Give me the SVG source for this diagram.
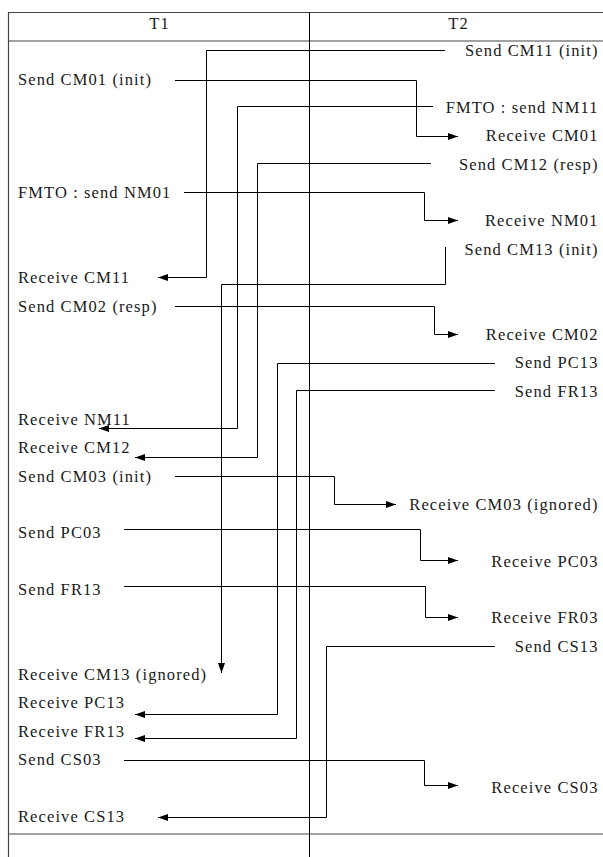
<svg xmlns="http://www.w3.org/2000/svg" width="603" height="857" viewBox="0 0 603 857">
<style>
  text { font-family: "Liberation Serif", "Times New Roman", serif; font-size: 16.5px; letter-spacing: 1.1px; fill: #1a1a1a; }
  .r { text-anchor: end; }
  .h { text-anchor: middle; }
  .tbl { stroke: #444; stroke-width: 1.2; fill: none; }
  .div { stroke: #000; stroke-width: 1; fill: none; }
  .c { stroke: #000; stroke-width: 1; fill: none; marker-end: url(#arr); }
</style>
<defs>
  <marker id="arr" viewBox="0 0 10 7" refX="10" refY="3.5" markerWidth="10" markerHeight="7" markerUnits="userSpaceOnUse" orient="auto">
    <path d="M0,0 L10,3.5 L0,7 z" fill="#000"/>
  </marker>
</defs>
<rect width="603" height="857" fill="#fff"/>
<g id="table">
  <path class="tbl" d="M8.5,857 V12.5 H603 M8.5,41 H603 M8.5,834 H603"/>
  <path class="div" d="M309.5,12.5 V857"/>
  <text class="h" x="159.5" y="28.5">T1</text>
  <text class="h" x="458.5" y="28.5">T2</text>
</g>
<g id="connectors">
  <path class="c" d="M445,50.5 H206.5 V277.5 H158"/>
  <path class="c" d="M175,80.5 H416.5 V136.5 H458"/>
  <path class="c" d="M433,106.5 H237.5 V428.5 H99"/>
  <path class="c" d="M431,163.5 H257.5 V457.5 H135"/>
  <path class="c" d="M184,192.5 H424.5 V220.5 H458"/>
  <path class="c" d="M445.5,247 V284.5 H221.5 V673"/>
  <path class="c" d="M175,306.5 H434.5 V334.5 H458"/>
  <path class="c" d="M495,363.5 H277.5 V714.5 H135"/>
  <path class="c" d="M495,390.5 H296.5 V738.5 H135"/>
  <path class="c" d="M175,476.5 H334.5 V504.5 H396"/>
  <path class="c" d="M124,529.5 H420.5 V560.5 H458"/>
  <path class="c" d="M124,586.5 H425.5 V617.5 H458"/>
  <path class="c" d="M495,646.5 H326.5 V817.5 H158"/>
  <path class="c" d="M124,760.5 H424.5 V785.5 H458"/>
</g>
<g id="n-send-cm11"><text class="r" x="598.5" y="56">Send CM11 (init)</text></g>
<g id="n-send-cm01"><text x="18" y="84.5">Send CM01 (init)</text></g>
<g id="n-fmto-nm11"><text class="r" x="598.5" y="112.5">FMTO : send NM11</text></g>
<g id="n-recv-cm01"><text class="r" x="598.5" y="141">Receive CM01</text></g>
<g id="n-send-cm12"><text class="r" x="598.5" y="169.5">Send CM12 (resp)</text></g>
<g id="n-fmto-nm01"><text x="18" y="198">FMTO : send NM01</text></g>
<g id="n-recv-nm01"><text class="r" x="598.5" y="226">Receive NM01</text></g>
<g id="n-send-cm13"><text class="r" x="598.5" y="254.5">Send CM13 (init)</text></g>
<g id="n-recv-cm11"><text x="18" y="283">Receive CM11</text></g>
<g id="n-send-cm02"><text x="18" y="311.5">Send CM02 (resp)</text></g>
<g id="n-recv-cm02"><text class="r" x="598.5" y="339.5">Receive CM02</text></g>
<g id="n-send-pc13"><text class="r" x="598.5" y="368">Send PC13</text></g>
<g id="n-send-fr13"><text class="r" x="598.5" y="396.5">Send FR13</text></g>
<g id="n-recv-nm11"><text x="18" y="425">Receive NM11</text></g>
<g id="n-recv-cm12"><text x="18" y="453">Receive CM12</text></g>
<g id="n-send-cm03"><text x="18" y="481.5">Send CM03 (init)</text></g>
<g id="n-recv-cm03"><text class="r" x="598.5" y="510">Receive CM03 (ignored)</text></g>
<g id="n-send-pc03"><text x="18" y="538">Send PC03</text></g>
<g id="n-recv-pc03"><text class="r" x="598.5" y="566.5">Receive PC03</text></g>
<g id="n-send-fr13-l"><text x="18" y="595">Send FR13</text></g>
<g id="n-recv-fr03"><text class="r" x="598.5" y="623">Receive FR03</text></g>
<g id="n-send-cs13"><text class="r" x="598.5" y="651.5">Send CS13</text></g>
<g id="n-recv-cm13"><text x="18" y="680">Receive CM13 (ignored)</text></g>
<g id="n-recv-pc13"><text x="18" y="708">Receive PC13</text></g>
<g id="n-recv-fr13"><text x="18" y="736.5">Receive FR13</text></g>
<g id="n-send-cs03"><text x="18" y="765">Send CS03</text></g>
<g id="n-recv-cs03"><text class="r" x="598.5" y="793">Receive CS03</text></g>
<g id="n-recv-cs13"><text x="18" y="821.5">Receive CS13</text></g>
</svg>
